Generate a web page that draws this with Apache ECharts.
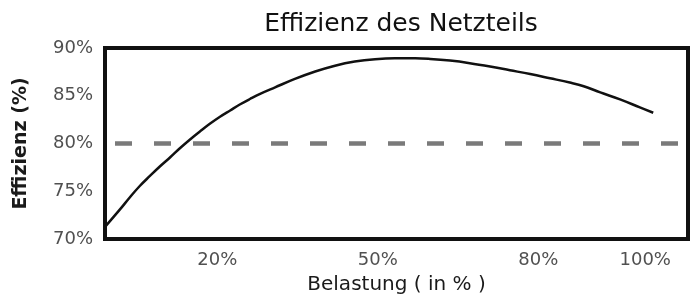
<!DOCTYPE html>
<html>
<head>
<meta charset="utf-8">
<script src="https://cdn.jsdelivr.net/npm/echarts@6/dist/echarts.min.js"></script>
<style>
  html, body { margin: 0; padding: 0; background: #ffffff; }
  #chart { width: 693px; height: 300px; }
</style>
</head>
<body>
<div id="chart"></div>
<script>
// Data
const loadPct = [-1, 1.8, 3.7, 5.5, 7.4, 9.3, 11.2, 13, 14.9, 16.8, 18.6, 20.5, 22.4, 24.2, 26.1, 28, 30.8, 34.5, 38.3, 42, 45.7, 49.5, 53.2, 57, 59.8, 63.5, 67.2, 71, 74.7, 78.5, 82.2, 85.9, 88.5, 91.6, 95.3, 99, 101.5];
const efficiency = [71.27, 73.1, 74.4, 75.55, 76.6, 77.62, 78.56, 79.5, 80.42, 81.28, 82.06, 82.8, 83.46, 84.08, 84.66, 85.2, 85.88, 86.76, 87.54, 88.15, 88.58, 88.83, 88.93, 88.93, 88.86, 88.68, 88.41, 88.06, 87.67, 87.27, 86.83, 86.38, 86.0, 85.35, 84.62, 83.78, 83.22];
const xTickValues = [20, 50, 80, 100];
const referenceLevel = 80;
const titleText = 'Effizienz des Netzteils';
const xAxisName = 'Belastung ( in % )';
const yAxisName = 'Effizienz (%)';

const chart = echarts.init(document.getElementById('chart'), null, { renderer: 'canvas' });

const seriesData = loadPct.map((x, i) => [x, efficiency[i]]);

chart.setOption({
  animation: false,
  backgroundColor: '#ffffff',
  title: {
    text: titleText,
    left: 396,
    top: 7,
    textAlign: 'center',
    textStyle: {
      fontFamily: 'DejaVu Sans',
      fontSize: 25,
      fontWeight: 'normal',
      color: '#111111'
    }
  },
  grid: {
    left: 105,
    right: 5,
    top: 48,
    bottom: 59.5,
    show: true,
    borderColor: '#111111',
    borderWidth: 4,
    backgroundColor: '#ffffff'
  },
  xAxis: {
    type: 'value',
    min: -1,
    max: 108,
    name: xAxisName,
    nameLocation: 'middle',
    nameGap: 36,
    nameTextStyle: {
      fontFamily: 'DejaVu Sans',
      fontSize: 20,
      color: '#1a1a1a'
    },
    axisLine: { show: false },
    axisTick: { show: false },
    splitLine: { show: false },
    axisLabel: {
      customValues: xTickValues,
      formatter: '{value}%',
      margin: 12,
      fontFamily: 'DejaVu Sans',
      fontSize: 18,
      color: '#505050'
    }
  },
  yAxis: {
    type: 'value',
    min: 70,
    max: 90,
    interval: 5,
    name: yAxisName,
    nameLocation: 'middle',
    nameGap: 74,
    nameTextStyle: {
      fontFamily: 'DejaVu Sans',
      fontSize: 19,
      fontWeight: 'bold',
      color: '#1a1a1a'
    },
    axisLine: { show: false },
    axisTick: { show: false },
    splitLine: { show: false },
    axisLabel: {
      formatter: '{value}%',
      margin: 12,
      fontFamily: 'DejaVu Sans',
      fontSize: 18,
      color: '#505050'
    }
  },
  series: [{
    type: 'line',
    data: seriesData,
    smooth: 0.4,
    showSymbol: false,
    symbol: 'none',
    lineStyle: { color: '#111111', width: 2.5 },
    markLine: {
      silent: true,
      symbol: ['none', 'none'],
      label: { show: false },
      lineStyle: {
        color: '#7a7a7a',
        width: 4.5,
        type: [17, 22],
        dashOffset: 29
      },
      data: [{ yAxis: referenceLevel }]
    }
  }]
});
</script>
</body>
</html>
